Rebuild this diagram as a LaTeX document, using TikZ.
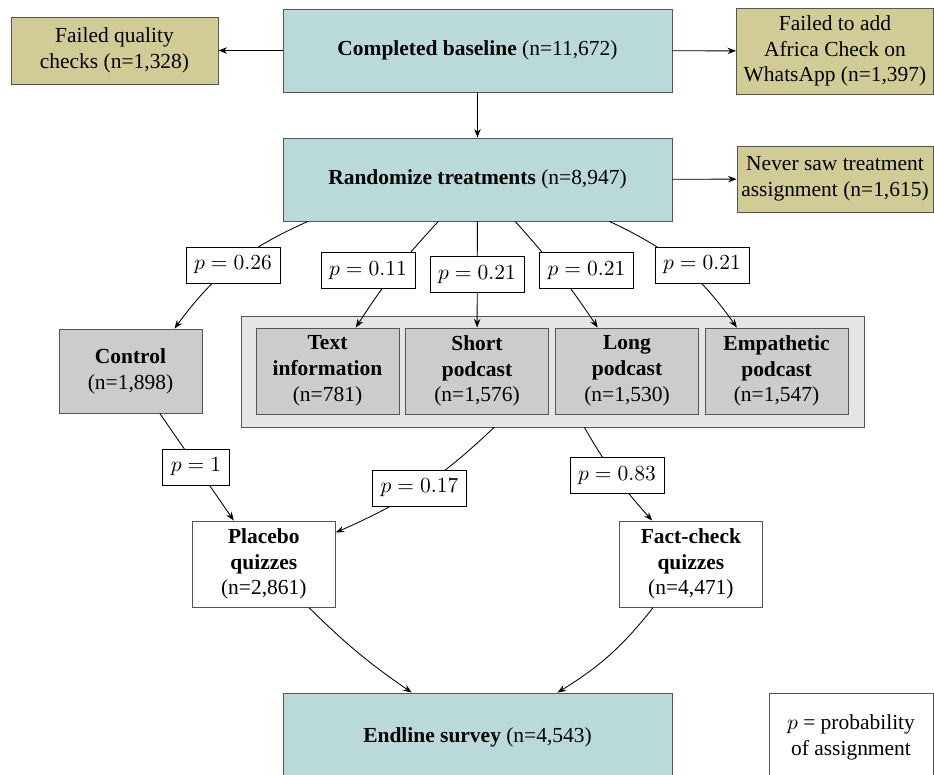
\documentclass[tikz,border=0pt]{standalone}
\usepackage{fontspec}
\setmainfont{Liberation Serif}
\usetikzlibrary{arrows.meta}
\definecolor{baseteal}{RGB}{186,217,217}
\definecolor{dropkhaki}{RGB}{209,204,150}
\definecolor{armgray}{RGB}{204,204,204}
\definecolor{poolgray}{RGB}{230,230,230}
\definecolor{edgegray}{RGB}{85,85,85}

\begin{document}
\begin{tikzpicture}[x=0.466pt, y=-0.466pt,
    >={Stealth[length=4pt,width=3pt]},
    stage/.style={draw=edgegray, fill=baseteal, minimum width=181.3pt, minimum height=38.7pt},
    drop/.style={draw=edgegray, fill=dropkhaki, align=center, inner sep=1pt},
    arm/.style={draw=edgegray, fill=armgray, align=center, minimum width=66.6pt, minimum height=40.1pt, inner sep=1pt},
    quiz/.style={draw=edgegray, fill=white, align=center, minimum width=66.6pt, minimum height=40.1pt, inner sep=1pt},
    prob/.style={draw, fill=white, minimum width=43.8pt, minimum height=16.8pt, inner sep=1pt}]

    \clip (0,0) rectangle (934,774);

    % stages down the middle
    \node[stage] (base) at (477.5,50.5) {\textbf{Completed baseline} (n=11,672)};
    \node[stage] (rand) at (477.5,179.5) {\textbf{Randomize treatments} (n=8,947)};
    \node[stage, minimum height=41pt] (endl) at (477.5,737) {\textbf{Endline survey} (n=4,543)};

    % dropped respondents
    \node[drop, minimum width=96.5pt, minimum height=31.2pt] (fqc) at (114.5,50.5) {Failed quality\\checks (n=1,328)};
    \node[drop, minimum width=91.8pt, minimum height=40.1pt] (fadd) at (835,51) {Failed to add\\Africa Check on\\WhatsApp (n=1,397)};
    \node[drop, minimum width=91.3pt, minimum height=30.8pt] (never) at (835,179) {Never saw treatment\\assignment (n=1,615)};

    % treatment arms
    \node[arm, minimum height=39.1pt] (ctrl) at (130.5,371) {\textbf{Control}\\(n=1,898)};
    \node[draw=edgegray, fill=poolgray, minimum width=290.3pt, minimum height=51.7pt] (treat) at (552.5,371.5) {};
    \node[arm] (text) at (327.5,371) {\textbf{Text}\\\textbf{information}\\(n=781)};
    \node[arm] (short) at (477,371) {\textbf{Short}\\\textbf{podcast}\\(n=1,576)};
    \node[arm] (long) at (627,371) {\textbf{Long}\\\textbf{podcast}\\(n=1,530)};
    \node[arm] (emp) at (776.5,371) {\textbf{Empathetic}\\\textbf{podcast}\\(n=1,547)};

    % quizzes
    \node[quiz] (plac) at (263.8,564) {\textbf{Placebo}\\\textbf{quizzes}\\(n=2,861)};
    \node[quiz] (fact) at (690.9,564) {\textbf{Fact-check}\\\textbf{quizzes}\\(n=4,471)};

    \node[draw=edgegray, fill=white, align=center, minimum width=76.4pt, minimum height=41pt, inner sep=1pt] (legend) at (851,737) {$p$ = probability\\of assignment};

    % connectors
    \draw[->] (base) -- (fqc);
    \draw[->] (base) -- (fadd);
    \draw[->] (base) -- (rand);
    \draw[->] (rand) -- (never);
    \draw[->] (rand) to[bend right=15] (ctrl);
    \draw[->] (rand) to[bend right=5] (text);
    \draw[->] (rand) -- (short);
    \draw[->] (rand) to[bend left=4] (long);
    \draw[->] (rand) to[bend left=15] (emp);
    \draw[->] (ctrl) -- (plac);
    \draw[->] (treat) to[bend left=10] (plac);
    \draw[->] (treat) to[bend right=6] (fact);
    \draw[->] (plac) to[bend right=5] (endl);
    \draw[->] (fact) to[bend left=10] (endl);

    % assignment probabilities
    \node[prob] (p26) at (233,265) {$p=0.26$};
    \node[prob] (p11) at (368,270.5) {$p=0.11$};
    \node[prob] (p21s) at (477,274.5) {$p=0.21$};
    \node[prob] (p21l) at (586.5,270.5) {$p=0.21$};
    \node[prob] (p21e) at (702,265) {$p=0.21$};
    \node[prob, minimum width=31.5pt] (p1) at (196,467) {$p=1$};
    \node[prob] (p17) at (419.5,488) {$p=0.17$};
    \node[prob] (p83) at (617,475.5) {$p=0.83$};
\end{tikzpicture}
\end{document}
